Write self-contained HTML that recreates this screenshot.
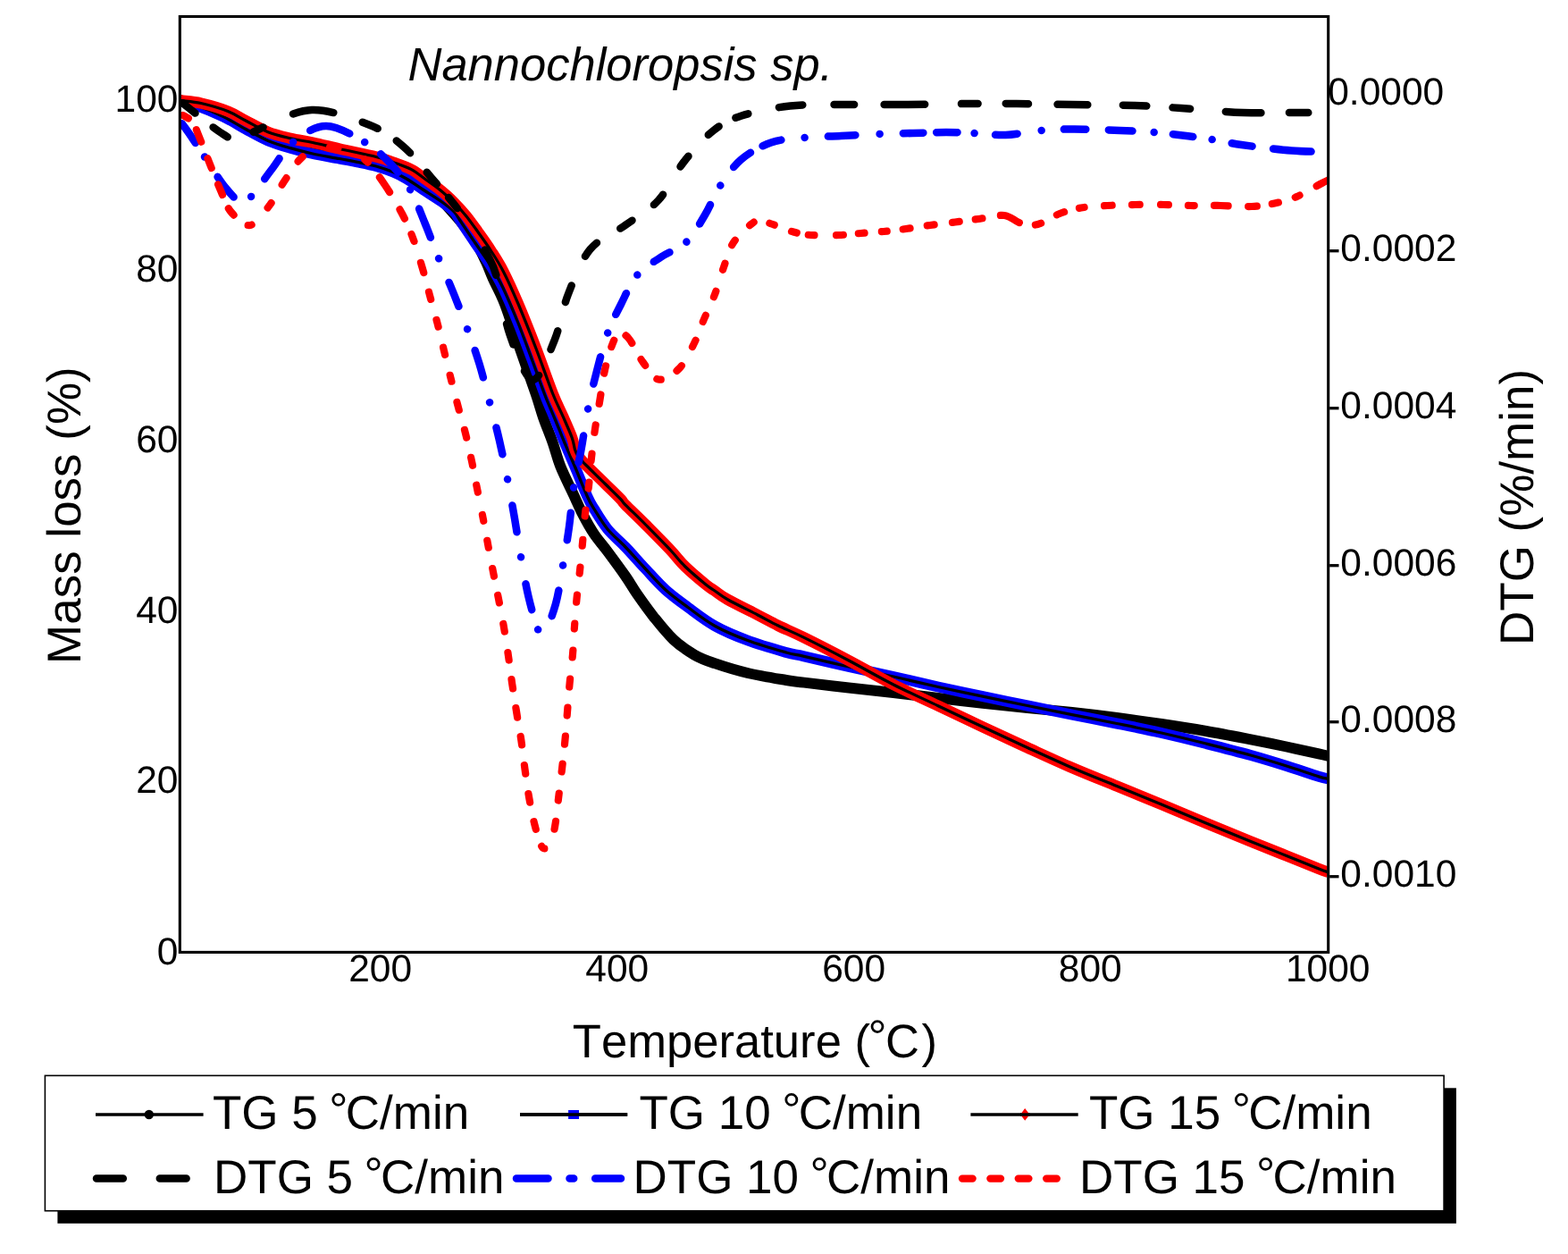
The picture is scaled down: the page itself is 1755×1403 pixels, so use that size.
<!DOCTYPE html>
<html><head><meta charset="utf-8"><title>Nannochloropsis sp. TG/DTG</title>
<style>html,body{margin:0;padding:0;background:#fff;} body{width:1755px;height:1403px;overflow:hidden;} svg{display:block;}</style>
</head><body>
<svg width="1755" height="1403" viewBox="0 0 1755 1403" font-family="'Liberation Sans', Arial, Helvetica, sans-serif" text-rendering="geometricPrecision" style="font-kerning:none;font-feature-settings:'kern' 0">
<rect width="1755" height="1403" fill="#fff"/>
<g clip-path="url(#plotclip)">
<path d="M201.0,112.0 C204.2,112.8 211.8,114.7 220.0,117.0 C228.2,119.3 240.8,122.4 250.0,126.0 C259.2,129.6 266.7,134.3 275.0,138.5 C283.3,142.7 291.7,147.4 300.0,151.0 C308.3,154.6 316.7,157.5 325.0,160.0 C333.3,162.5 340.8,164.0 350.0,166.0 C359.2,168.0 368.2,169.5 380.0,172.0 C391.8,174.5 409.7,178.0 421.0,181.0 C432.3,184.0 438.8,186.2 448.0,190.0 C457.2,193.8 469.2,199.3 476.0,204.0 C482.8,208.7 482.7,211.0 489.0,218.0 C495.3,225.0 506.8,237.3 514.0,246.0 C521.2,254.7 527.0,262.2 532.0,270.0 C537.0,277.8 540.7,286.0 544.0,293.0 C547.3,300.0 548.5,304.2 552.0,312.0 C555.5,319.8 560.0,327.0 565.0,340.0 C570.0,353.0 576.2,373.3 582.0,390.0 C587.8,406.7 595.1,427.1 599.5,440.0 C603.9,452.9 605.0,458.3 608.2,467.4 C611.4,476.5 615.3,485.6 618.5,494.7 C621.7,503.8 623.5,512.2 627.4,522.0 C631.3,531.8 637.9,544.6 642.1,553.7 C646.3,562.8 649.0,569.2 652.8,576.5 C656.6,583.8 660.5,590.8 665.0,597.5 C669.5,604.2 674.2,609.2 680.0,617.0 C685.8,624.8 694.5,636.6 700.0,644.5 C705.5,652.4 707.5,656.6 712.7,664.2 C718.0,671.8 724.7,681.4 731.5,689.9 C738.3,698.4 746.1,708.4 753.7,715.5 C761.3,722.6 769.6,728.2 777.3,732.7 C785.0,737.2 790.1,738.8 800.0,742.2 C809.9,745.6 823.5,749.9 836.8,753.0 C850.1,756.1 869.5,759.2 880.0,761.0 C890.5,762.8 888.3,762.2 900.0,763.6 C911.7,765.0 933.3,767.6 950.0,769.5 C966.7,771.4 983.3,773.1 1000.0,775.0 C1016.7,776.9 1033.3,779.0 1050.0,781.0 C1066.7,783.0 1083.3,784.9 1100.0,786.7 C1116.7,788.5 1133.3,790.3 1150.0,792.0 C1166.7,793.7 1183.3,795.2 1200.0,797.0 C1216.7,798.8 1233.3,800.8 1250.0,803.0 C1266.7,805.2 1283.3,807.5 1300.0,810.0 C1316.7,812.5 1333.3,815.1 1350.0,818.0 C1366.7,820.9 1385.0,824.5 1400.0,827.4 C1415.0,830.3 1427.3,832.8 1440.0,835.5 C1452.7,838.2 1468.2,841.6 1476.0,843.4 C1483.8,845.1 1485.2,845.6 1487.0,846.0" fill="none" stroke="#000" stroke-width="12" stroke-linejoin="round" />
<path d="M201.0,113.0 C204.2,113.8 211.8,115.1 220.0,118.0 C228.2,120.9 240.8,126.1 250.0,130.5 C259.2,134.9 266.7,140.0 275.0,144.5 C283.3,149.0 291.7,153.9 300.0,157.4 C308.3,160.9 316.7,163.3 325.0,165.7 C333.3,168.1 340.8,170.0 350.0,172.0 C359.2,174.0 371.7,175.9 380.0,177.5 C388.3,179.1 393.2,179.9 400.0,181.3 C406.8,182.7 414.3,184.1 421.0,186.0 C427.7,187.9 434.3,190.2 440.0,192.5 C445.7,194.8 449.3,196.7 455.0,200.0 C460.7,203.3 467.4,208.2 474.0,212.5 C480.6,216.8 489.0,221.9 494.7,226.0 C500.4,230.1 505.1,233.7 508.4,237.0 C511.7,240.3 510.6,240.2 514.5,246.0 C518.4,251.8 526.3,263.7 532.0,272.0 C537.7,280.3 543.3,287.7 548.5,296.0 C553.7,304.3 557.9,311.3 563.0,322.0 C568.1,332.7 574.0,346.7 579.4,360.0 C584.8,373.3 590.2,388.3 595.3,402.0 C600.4,415.7 605.6,430.9 609.9,442.0 C614.2,453.1 617.3,459.6 621.0,468.5 C624.7,477.4 628.3,486.8 632.0,495.5 C635.7,504.2 638.7,510.9 643.0,521.0 C647.3,531.1 653.9,547.9 657.6,556.0 C661.3,564.1 661.3,563.5 665.0,569.5 C668.7,575.5 674.2,584.9 680.0,592.0 C685.8,599.1 693.0,604.7 700.0,612.0 C707.0,619.3 714.5,628.0 722.0,636.0 C729.5,644.0 737.0,652.8 745.0,660.0 C753.0,667.2 760.8,672.8 770.0,679.5 C779.2,686.2 788.9,694.0 800.0,700.2 C811.1,706.4 823.5,711.5 836.8,716.5 C850.1,721.5 869.5,727.0 880.0,730.0 C890.5,733.0 888.3,731.6 900.0,734.3 C911.7,737.0 933.3,742.2 950.0,746.0 C966.7,749.8 983.3,753.2 1000.0,757.0 C1016.7,760.8 1033.3,764.8 1050.0,768.5 C1066.7,772.2 1083.3,775.7 1100.0,779.2 C1116.7,782.7 1133.3,786.1 1150.0,789.5 C1166.7,792.9 1183.3,796.3 1200.0,799.6 C1216.7,802.9 1233.3,806.1 1250.0,809.5 C1266.7,812.9 1283.3,816.2 1300.0,820.0 C1316.7,823.8 1333.3,827.8 1350.0,832.0 C1366.7,836.2 1385.0,840.8 1400.0,845.0 C1415.0,849.2 1427.3,853.0 1440.0,857.0 C1452.7,861.0 1468.2,866.4 1476.0,868.8 C1483.8,871.2 1485.2,871.0 1487.0,871.5" fill="none" stroke="#0000ff" stroke-width="12" stroke-linejoin="round" />
<path d="M201.0,113.0 C204.2,113.8 211.8,115.1 220.0,118.0 C228.2,120.9 240.8,126.1 250.0,130.5 C259.2,134.9 266.7,140.0 275.0,144.5 C283.3,149.0 291.7,153.9 300.0,157.4 C308.3,160.9 316.7,163.3 325.0,165.7 C333.3,168.1 340.8,170.0 350.0,172.0 C359.2,174.0 371.7,175.9 380.0,177.5 C388.3,179.1 393.2,179.9 400.0,181.3 C406.8,182.7 414.3,184.1 421.0,186.0 C427.7,187.9 434.3,190.2 440.0,192.5 C445.7,194.8 449.3,196.7 455.0,200.0 C460.7,203.3 467.4,208.2 474.0,212.5 C480.6,216.8 489.0,221.9 494.7,226.0 C500.4,230.1 505.1,233.7 508.4,237.0 C511.7,240.3 510.6,240.2 514.5,246.0 C518.4,251.8 526.3,263.7 532.0,272.0 C537.7,280.3 543.3,287.7 548.5,296.0 C553.7,304.3 557.9,311.3 563.0,322.0 C568.1,332.7 574.0,346.7 579.4,360.0 C584.8,373.3 590.2,388.3 595.3,402.0 C600.4,415.7 605.6,430.9 609.9,442.0 C614.2,453.1 617.3,459.6 621.0,468.5 C624.7,477.4 628.3,486.8 632.0,495.5 C635.7,504.2 638.7,510.9 643.0,521.0 C647.3,531.1 653.9,547.9 657.6,556.0 C661.3,564.1 661.3,563.5 665.0,569.5 C668.7,575.5 674.2,584.9 680.0,592.0 C685.8,599.1 693.0,604.7 700.0,612.0 C707.0,619.3 714.5,628.0 722.0,636.0 C729.5,644.0 737.0,652.8 745.0,660.0 C753.0,667.2 760.8,672.8 770.0,679.5 C779.2,686.2 788.9,694.0 800.0,700.2 C811.1,706.4 823.5,711.5 836.8,716.5 C850.1,721.5 869.5,727.0 880.0,730.0 C890.5,733.0 888.3,731.6 900.0,734.3 C911.7,737.0 933.3,742.2 950.0,746.0 C966.7,749.8 983.3,753.2 1000.0,757.0 C1016.7,760.8 1033.3,764.8 1050.0,768.5 C1066.7,772.2 1083.3,775.7 1100.0,779.2 C1116.7,782.7 1133.3,786.1 1150.0,789.5 C1166.7,792.9 1183.3,796.3 1200.0,799.6 C1216.7,802.9 1233.3,806.1 1250.0,809.5 C1266.7,812.9 1283.3,816.2 1300.0,820.0 C1316.7,823.8 1333.3,827.8 1350.0,832.0 C1366.7,836.2 1385.0,840.8 1400.0,845.0 C1415.0,849.2 1427.3,853.0 1440.0,857.0 C1452.7,861.0 1468.2,866.4 1476.0,868.8 C1483.8,871.2 1485.2,871.0 1487.0,871.5" fill="none" stroke="#000" stroke-width="3.3" stroke-linejoin="round" />
<path d="M201.0,112.0 C201.3,112.1 199.0,111.9 203.0,112.5 C207.0,113.1 216.3,113.5 225.0,115.5 C233.7,117.5 246.7,121.2 255.0,124.5 C263.3,127.8 267.5,131.1 275.0,135.0 C282.5,138.9 291.7,144.4 300.0,147.7 C308.3,151.0 316.7,152.8 325.0,154.8 C333.3,156.8 340.8,157.6 350.0,159.5 C359.2,161.4 368.2,163.8 380.0,166.5 C391.8,169.2 411.0,173.0 421.0,175.5 C431.0,178.0 433.4,179.2 440.0,181.6 C446.6,184.0 454.5,186.5 460.5,189.7 C466.5,192.8 470.5,196.6 476.0,200.5 C481.5,204.4 488.0,208.8 493.4,213.2 C498.8,217.6 503.6,222.0 508.4,226.8 C513.2,231.6 517.4,236.2 522.0,241.9 C526.6,247.6 531.2,254.3 535.8,260.7 C540.4,267.1 544.9,273.3 549.5,280.5 C554.1,287.7 558.4,294.1 563.5,304.0 C568.6,313.9 573.9,325.7 580.0,340.0 C586.1,354.3 593.6,373.3 600.0,390.0 C606.4,406.7 613.4,427.1 618.5,440.0 C623.6,452.9 627.2,459.1 630.8,467.4 C634.4,475.7 638.2,484.1 640.3,490.0 C642.4,495.9 642.5,499.8 643.5,503.0 C644.5,506.2 645.2,507.5 646.5,509.5 C647.8,511.5 649.4,513.2 651.0,515.0 C652.6,516.8 651.6,516.1 656.0,520.5 C660.4,524.9 671.1,535.2 677.5,541.5 C683.9,547.8 690.9,554.5 694.6,558.4 C698.4,562.3 695.3,560.0 700.0,564.8 C704.7,569.6 714.3,578.6 722.6,587.0 C730.9,595.4 742.6,607.2 750.0,615.0 C757.4,622.8 760.3,627.5 767.0,634.0 C773.7,640.5 784.5,649.5 790.0,654.0 C795.5,658.5 796.0,658.2 800.0,661.0 C804.0,663.8 806.0,666.0 814.0,670.5 C822.0,675.0 838.5,683.1 848.0,688.0 C857.5,692.9 862.3,695.8 871.0,700.0 C879.7,704.2 886.8,706.9 900.0,713.4 C913.2,719.9 933.3,730.2 950.0,739.0 C966.7,747.8 983.3,757.5 1000.0,766.0 C1016.7,774.5 1033.3,781.8 1050.0,789.7 C1066.7,797.6 1083.3,805.5 1100.0,813.3 C1116.7,821.1 1133.3,828.9 1150.0,836.5 C1166.7,844.1 1183.3,851.8 1200.0,859.0 C1216.7,866.2 1233.3,872.7 1250.0,879.5 C1266.7,886.3 1283.3,893.1 1300.0,900.0 C1316.7,906.9 1333.3,914.1 1350.0,921.0 C1366.7,927.9 1385.0,935.4 1400.0,941.5 C1415.0,947.6 1427.3,952.4 1440.0,957.5 C1452.7,962.6 1468.2,968.9 1476.0,972.0 C1483.8,975.1 1485.2,975.3 1487.0,976.0" fill="none" stroke="#ff0000" stroke-width="12.5" stroke-linejoin="round" />
<path d="M201.0,112.0 C201.3,112.1 199.0,111.9 203.0,112.5 C207.0,113.1 216.3,113.5 225.0,115.5 C233.7,117.5 246.7,121.2 255.0,124.5 C263.3,127.8 267.5,131.1 275.0,135.0 C282.5,138.9 291.7,144.4 300.0,147.7 C308.3,151.0 316.7,152.8 325.0,154.8 C333.3,156.8 340.8,157.6 350.0,159.5 C359.2,161.4 368.2,163.8 380.0,166.5 C391.8,169.2 411.0,173.0 421.0,175.5 C431.0,178.0 433.4,179.2 440.0,181.6 C446.6,184.0 454.5,186.5 460.5,189.7 C466.5,192.8 470.5,196.6 476.0,200.5 C481.5,204.4 488.0,208.8 493.4,213.2 C498.8,217.6 503.6,222.0 508.4,226.8 C513.2,231.6 517.4,236.2 522.0,241.9 C526.6,247.6 531.2,254.3 535.8,260.7 C540.4,267.1 544.9,273.3 549.5,280.5 C554.1,287.7 558.4,294.1 563.5,304.0 C568.6,313.9 573.9,325.7 580.0,340.0 C586.1,354.3 593.6,373.3 600.0,390.0 C606.4,406.7 613.4,427.1 618.5,440.0 C623.6,452.9 627.2,459.1 630.8,467.4 C634.4,475.7 638.2,484.1 640.3,490.0 C642.4,495.9 642.5,499.8 643.5,503.0 C644.5,506.2 645.2,507.5 646.5,509.5 C647.8,511.5 649.4,513.2 651.0,515.0 C652.6,516.8 651.6,516.1 656.0,520.5 C660.4,524.9 671.1,535.2 677.5,541.5 C683.9,547.8 690.9,554.5 694.6,558.4 C698.4,562.3 695.3,560.0 700.0,564.8 C704.7,569.6 714.3,578.6 722.6,587.0 C730.9,595.4 742.6,607.2 750.0,615.0 C757.4,622.8 760.3,627.5 767.0,634.0 C773.7,640.5 784.5,649.5 790.0,654.0 C795.5,658.5 796.0,658.2 800.0,661.0 C804.0,663.8 806.0,666.0 814.0,670.5 C822.0,675.0 838.5,683.1 848.0,688.0 C857.5,692.9 862.3,695.8 871.0,700.0 C879.7,704.2 886.8,706.9 900.0,713.4 C913.2,719.9 933.3,730.2 950.0,739.0 C966.7,747.8 983.3,757.5 1000.0,766.0 C1016.7,774.5 1033.3,781.8 1050.0,789.7 C1066.7,797.6 1083.3,805.5 1100.0,813.3 C1116.7,821.1 1133.3,828.9 1150.0,836.5 C1166.7,844.1 1183.3,851.8 1200.0,859.0 C1216.7,866.2 1233.3,872.7 1250.0,879.5 C1266.7,886.3 1283.3,893.1 1300.0,900.0 C1316.7,906.9 1333.3,914.1 1350.0,921.0 C1366.7,927.9 1385.0,935.4 1400.0,941.5 C1415.0,947.6 1427.3,952.4 1440.0,957.5 C1452.7,962.6 1468.2,968.9 1476.0,972.0 C1483.8,975.1 1485.2,975.3 1487.0,976.0" fill="none" stroke="#000" stroke-width="3.2" stroke-linejoin="round" />
<path d="M201.0,112.0 C202.8,113.5 203.9,115.0 211.5,121.0 C219.1,127.0 237.1,141.9 246.5,148.0 C255.9,154.1 260.9,158.0 268.0,157.5 C275.1,157.0 275.5,150.8 289.0,145.0 C302.5,139.2 328.2,123.8 349.0,123.0 C369.8,122.2 396.9,133.2 414.0,140.0 C431.1,146.8 440.0,154.2 451.5,164.0 C463.0,173.8 473.8,188.5 483.0,199.0 C492.2,209.5 499.2,217.2 507.0,227.0 C514.8,236.8 523.7,248.5 530.0,258.0 C536.3,267.5 540.7,275.3 545.0,284.0 C549.3,292.7 551.8,295.0 556.0,310.0 C560.2,325.0 563.8,354.8 570.5,374.0 C577.2,393.2 587.7,423.8 596.0,425.0 C604.3,426.2 613.8,397.0 620.5,381.0 C627.2,365.0 629.3,346.0 636.0,329.0 C642.7,312.0 649.8,291.9 660.5,279.0 C671.2,266.1 687.8,260.7 700.5,251.5 C713.2,242.3 726.2,235.8 737.0,224.0 C747.8,212.2 755.3,193.9 765.5,181.0 C775.7,168.1 787.2,155.1 798.0,146.5 C808.8,137.9 815.6,134.2 830.0,129.5 C844.4,124.8 865.4,120.6 884.5,118.5 C903.6,116.4 923.2,117.2 944.5,117.0 C965.8,116.8 988.7,117.2 1012.0,117.0 C1035.3,116.8 1063.5,116.2 1084.5,116.0 C1105.5,115.8 1118.8,115.8 1138.0,116.0 C1157.2,116.2 1178.1,116.7 1200.0,117.0 C1221.9,117.3 1249.2,117.3 1269.5,118.0 C1289.8,118.7 1301.8,119.7 1322.0,121.0 C1342.2,122.3 1369.2,125.2 1391.0,126.0 C1412.8,126.8 1436.5,126.0 1453.0,126.0 C1469.5,126.0 1483.8,126.0 1490.0,126.0" fill="none" stroke="#000" stroke-width="8.5" stroke-linecap="round" stroke-linejoin="round" stroke-dasharray="17.90 25.48 19.41 32.98 12.07 36.67 46.14 34.07 18.24 25.40 20.51 28.41 16.87 20.69 15.54 55.75 31.00 55.75 24.60 31.80 22.99 31.68 22.20 33.43 19.93 35.86 19.99 30.89 15.83 30.31 15.31 36.64 14.77 32.61 15.14 21.54 14.62 35.10 26.53 35.49 22.57 33.39 45.44 40.57 18.60 31.48 25.45 32.51 33.53 39.42 26.57 29.54 19.62 39.63 39.52 31.41 21.53 5000.00" stroke-dashoffset="-4.92"/>
<path d="M201.0,135.0 C202.8,137.3 206.8,142.2 211.5,149.0 C216.2,155.8 222.2,165.4 229.0,175.5 C235.8,185.6 245.0,200.8 252.0,209.5 C259.0,218.2 266.2,225.8 271.0,227.5 C275.8,229.2 275.4,226.4 281.0,220.0 C286.6,213.6 296.7,199.2 304.5,189.0 C312.3,178.8 317.9,167.0 328.0,159.0 C338.1,151.0 351.7,141.0 365.0,141.0 C378.3,141.0 396.2,152.2 408.0,159.0 C419.8,165.8 427.5,173.2 436.0,182.0 C444.5,190.8 452.4,200.8 459.0,212.0 C465.6,223.2 470.2,236.7 475.5,249.5 C480.8,262.3 485.6,275.8 491.0,289.0 C496.4,302.2 502.7,315.8 508.0,329.0 C513.3,342.2 518.2,355.0 523.0,368.0 C527.8,381.0 532.3,393.3 536.5,407.0 C540.7,420.7 544.2,435.7 548.0,450.0 C551.8,464.3 555.7,478.7 559.0,493.0 C562.3,507.3 565.2,521.5 568.0,536.0 C570.8,550.5 573.5,565.5 576.0,580.0 C578.5,594.5 580.4,608.4 583.0,623.0 C585.6,637.6 588.3,654.0 591.5,667.5 C594.7,681.0 599.1,697.1 602.0,704.0 C604.9,710.9 605.7,713.8 609.0,709.0 C612.3,704.2 618.5,688.2 622.0,675.5 C625.5,662.8 627.5,647.3 630.0,633.0 C632.5,618.7 635.0,604.0 637.0,589.5 C639.0,575.0 639.8,560.4 642.0,546.0 C644.2,531.6 647.8,517.7 650.5,503.0 C653.2,488.3 655.1,472.7 658.0,458.0 C660.9,443.3 664.3,429.2 668.0,415.0 C671.7,400.8 675.5,385.4 680.0,373.0 C684.5,360.6 689.5,351.3 695.0,340.5 C700.5,329.7 705.5,316.8 713.0,308.0 C720.5,299.2 730.8,293.7 740.0,287.5 C749.2,281.3 759.8,278.8 768.0,271.0 C776.2,263.2 782.7,251.0 789.0,240.5 C795.3,230.0 799.2,218.3 806.0,208.0 C812.8,197.7 820.0,186.6 829.5,178.5 C839.0,170.4 851.2,163.6 863.0,159.5 C874.8,155.4 886.9,155.2 900.0,154.0 C913.1,152.8 927.5,152.7 941.5,152.0 C955.5,151.3 970.7,150.5 984.0,150.0 C997.3,149.5 1009.0,149.3 1021.5,149.0 C1034.0,148.7 1047.6,148.0 1059.0,148.0 C1070.4,148.0 1078.9,148.5 1090.0,149.0 C1101.1,149.5 1113.0,151.5 1125.5,151.0 C1138.0,150.5 1152.2,147.1 1165.0,146.0 C1177.8,144.9 1187.8,144.5 1202.5,144.5 C1217.2,144.5 1238.8,145.4 1253.5,146.0 C1268.2,146.6 1279.3,147.1 1291.0,148.0 C1302.7,148.9 1312.7,150.2 1323.5,151.5 C1334.3,152.8 1345.0,154.2 1356.0,156.0 C1367.0,157.8 1374.6,159.9 1389.5,162.0 C1404.4,164.1 1428.8,167.2 1445.5,168.5 C1462.2,169.8 1482.6,169.8 1490.0,170.0" fill="none" stroke="#0000ff" stroke-width="8.5" stroke-linecap="round" stroke-linejoin="round" stroke-dasharray="26.45 18.55 0.02 26.59 28.95 25.67 0.02 24.84 28.16 24.14 0.02 23.02 46.49 19.44 0.02 22.40 28.19 23.66 0.02 23.57 34.77 25.08 0.02 28.97 28.97 27.29 0.02 25.43 31.63 28.72 0.02 29.03 30.75 28.53 0.02 29.55 30.29 28.44 0.02 30.50 29.57 23.24 0.02 33.65 29.69 28.40 0.02 28.56 30.97 28.31 0.02 28.55 30.49 30.41 0.02 28.53 31.29 28.01 0.02 22.62 26.40 24.02 0.02 23.60 20.68 22.35 0.02 24.88 24.59 24.35 0.02 25.27 25.03 15.49 21.91 26.37 0.02 26.26 30.61 27.21 0.02 26.26 22.51 14.54 23.46 19.26 0.02 23.57 24.56 27.25 0.02 25.27 24.47 25.53 26.57 24.26 0.02 21.36 22.66 21.46 0.02 22.51 23.06 23.59 42.54 5000.00" stroke-dashoffset="-4.25"/>
<path d="M201.0,127.5 C202.2,128.0 205.5,129.2 208.0,130.8 C210.5,132.3 213.6,133.5 216.0,137.0 C218.4,140.5 219.4,144.4 222.5,152.0 C225.6,159.6 230.5,172.5 234.5,182.5 C238.5,192.5 242.5,202.9 246.5,212.0 C250.5,221.1 252.9,230.3 258.5,237.0 C264.1,243.7 272.8,253.2 280.0,252.0 C287.2,250.8 295.2,238.2 301.5,230.0 C307.8,221.8 312.2,211.7 318.0,203.0 C323.8,194.3 329.8,184.2 336.0,178.0 C342.2,171.8 349.0,168.2 355.0,166.0 C361.0,163.8 366.2,164.7 372.0,165.0 C377.8,165.3 383.7,165.5 390.0,168.0 C396.3,170.5 403.2,173.6 410.0,180.0 C416.8,186.4 423.8,196.7 430.5,206.5 C437.2,216.3 444.8,229.1 450.0,239.0 C455.2,248.9 458.2,256.0 462.0,266.0 C465.8,276.0 469.3,288.2 472.5,299.0 C475.7,309.8 478.2,320.1 481.0,330.5 C483.8,340.9 486.8,351.2 489.5,361.5 C492.2,371.8 494.5,382.2 497.0,392.5 C499.5,402.8 501.9,412.8 504.5,423.0 C507.1,433.2 509.8,443.7 512.5,454.0 C515.2,464.3 518.4,474.7 521.0,485.0 C523.6,495.3 525.8,505.8 528.0,516.0 C530.2,526.2 531.9,536.0 534.0,546.5 C536.1,557.0 538.5,568.7 540.5,579.0 C542.5,589.3 544.1,598.3 546.0,608.5 C547.9,618.7 550.0,629.8 552.0,640.0 C554.0,650.2 556.0,659.7 558.0,670.0 C560.0,680.3 562.2,691.3 564.0,702.0 C565.8,712.7 567.5,723.5 569.0,734.0 C570.5,744.5 571.7,754.5 573.2,765.0 C574.8,775.5 576.5,786.4 578.2,797.0 C579.8,807.6 581.8,817.9 583.4,828.5 C584.9,839.1 586.0,849.8 587.5,860.5 C589.0,871.2 590.4,882.1 592.2,892.5 C594.0,902.9 596.2,914.0 598.5,923.0 C600.8,932.0 603.8,942.2 606.0,946.5 C608.2,950.8 610.2,949.2 612.0,948.5 C613.8,947.8 615.5,946.2 617.0,942.0 C618.5,937.8 619.9,931.8 621.3,923.5 C622.7,915.2 624.0,902.7 625.2,892.0 C626.5,881.3 627.9,870.1 629.1,859.5 C630.3,848.9 631.4,839.0 632.4,828.5 C633.4,818.0 634.2,807.2 635.0,796.5 C635.9,785.8 636.6,775.2 637.6,764.5 C638.6,753.8 640.1,742.6 641.0,732.0 C641.9,721.4 642.2,711.3 643.0,701.0 C643.8,690.7 644.5,680.4 645.5,670.0 C646.5,659.6 647.9,648.9 649.0,638.5 C650.1,628.1 651.0,618.2 652.0,607.5 C653.0,596.8 653.8,585.2 655.0,574.5 C656.2,563.8 657.8,553.9 659.0,543.5 C660.2,533.1 660.8,522.6 662.0,512.0 C663.2,501.4 664.4,490.8 666.0,480.0 C667.6,469.2 669.7,458.0 671.5,447.0 C673.3,436.0 674.7,424.3 677.0,414.0 C679.3,403.7 682.8,391.8 685.5,385.0 C688.2,378.2 689.9,374.0 693.0,373.0 C696.1,372.0 699.6,373.7 704.0,379.0 C708.4,384.3 714.0,397.4 719.5,405.0 C725.0,412.6 730.2,423.2 737.0,424.5 C743.8,425.8 753.4,419.1 760.0,412.5 C766.6,405.9 771.8,394.2 776.5,385.0 C781.2,375.8 784.1,366.2 788.0,357.0 C791.9,347.8 796.3,339.2 800.0,329.5 C803.7,319.8 806.6,308.6 810.0,299.0 C813.4,289.4 815.4,280.0 820.5,272.0 C825.6,264.0 835.4,255.2 840.5,251.0 C845.6,246.8 847.2,246.6 851.0,246.5 C854.8,246.4 857.3,248.3 863.5,250.5 C869.7,252.7 880.7,257.4 888.0,259.5 C895.3,261.6 899.0,262.4 907.5,263.0 C916.0,263.6 929.7,263.3 939.0,263.0 C948.3,262.7 955.2,261.7 963.5,261.0 C971.8,260.3 980.6,259.8 989.0,259.0 C997.4,258.2 1005.3,257.2 1014.0,256.0 C1022.7,254.8 1031.8,253.2 1041.0,252.0 C1050.2,250.8 1060.0,249.7 1069.0,248.5 C1078.0,247.3 1085.8,246.2 1095.0,245.0 C1104.2,243.8 1116.2,240.2 1124.0,241.0 C1131.8,241.8 1135.8,247.8 1142.0,249.5 C1148.2,251.2 1154.2,252.8 1161.5,251.0 C1168.8,249.2 1177.9,242.1 1186.0,239.0 C1194.1,235.9 1201.1,234.0 1210.0,232.5 C1218.9,231.0 1229.4,230.6 1239.5,230.0 C1249.6,229.4 1260.0,229.2 1270.5,229.0 C1281.0,228.8 1292.2,228.8 1302.5,229.0 C1312.8,229.2 1321.9,229.8 1332.5,230.0 C1343.1,230.2 1354.6,229.8 1366.0,230.0 C1377.4,230.2 1390.9,231.4 1401.0,231.0 C1411.1,230.6 1418.1,229.3 1426.5,227.5 C1434.9,225.7 1442.7,223.8 1451.5,220.0 C1460.3,216.2 1473.1,208.3 1479.5,205.0 C1485.9,201.7 1488.2,200.8 1490.0,200.0" fill="none" stroke="#ff0000" stroke-width="8.2" stroke-linecap="round" stroke-linejoin="round" stroke-dasharray="6.97 16.05 14.45 19.75 11.64 19.73 12.57 16.89 9.42 19.95 4.10 26.26 6.83 23.75 8.97 22.65 7.28 33.15 9.50 33.15 4.53 21.35 19.87 22.22 11.56 19.61 8.39 24.71 11.54 22.72 8.36 23.86 8.05 23.76 8.32 23.70 7.09 23.99 9.07 23.17 8.76 22.84 9.10 22.53 8.06 25.68 6.86 22.59 8.04 23.67 8.71 21.89 8.65 23.93 8.60 23.87 8.48 21.79 10.56 21.78 10.63 21.74 9.60 22.73 9.61 22.65 9.84 21.68 9.07 20.14 4.30 26.11 9.04 23.18 8.09 24.19 8.97 22.20 9.00 23.17 8.91 23.18 8.93 24.23 7.90 24.19 5.90 24.11 8.06 24.18 6.93 24.28 6.85 26.28 6.88 24.35 6.92 24.25 7.91 24.06 8.48 23.98 10.41 23.99 8.67 21.89 8.20 18.10 10.89 20.71 8.39 20.25 4.58 20.41 7.88 24.18 8.31 22.30 7.76 22.66 6.82 24.99 7.54 22.00 6.66 22.99 6.00 18.81 5.71 20.30 6.03 13.48 6.73 24.20 7.77 17.35 6.75 19.26 5.91 18.22 7.95 19.38 7.88 20.39 7.78 18.42 7.86 20.41 23.10 18.36 6.57 19.89 8.77 17.67 5.74 22.34 8.74 22.26 8.74 23.22 8.85 22.22 6.79 22.21 15.75 22.26 9.75 17.36 7.08 19.92 5.29 21.63 15.07 5000.00" stroke-dashoffset="-4.10"/>
</g>
<rect x="201.3" y="18.5" width="1285.4" height="1046.9" fill="none" stroke="#000" stroke-width="3.1"/>
<path d="M1486.7,280.8 h13 M1486.7,455.5 h13 M1486.7,630.7 h13 M1486.7,805.5 h13 M1486.7,979.5 h13" stroke="#000" stroke-width="0"/>
<text x="199.5" y="125.2" font-size="42.5" text-anchor="end" >100</text>
<text x="199.5" y="315.4" font-size="42.5" text-anchor="end" >80</text>
<text x="199.5" y="506.0" font-size="42.5" text-anchor="end" >60</text>
<text x="199.5" y="696.6" font-size="42.5" text-anchor="end" >40</text>
<text x="199.5" y="887.2" font-size="42.5" text-anchor="end" >20</text>
<text x="199.5" y="1078.5" font-size="42.5" text-anchor="end" >0</text>
<text x="425.6" y="1098.3" font-size="42.5" text-anchor="middle" >200</text>
<text x="690.8" y="1098.3" font-size="42.5" text-anchor="middle" >400</text>
<text x="955.6" y="1098.3" font-size="42.5" text-anchor="middle" >600</text>
<text x="1220.3" y="1098.3" font-size="42.5" text-anchor="middle" >800</text>
<text x="1486.2" y="1098.3" font-size="42.5" text-anchor="middle" >1000</text>
<text x="1486.2" y="117.3" font-size="42.5" text-anchor="start" >0.0000</text>
<text x="1486.2" y="291.9" font-size="42.5" text-anchor="start" >-0.0002</text>
<text x="1486.2" y="468.3" font-size="42.5" text-anchor="start" >-0.0004</text>
<text x="1486.2" y="643.7" font-size="42.5" text-anchor="start" >-0.0006</text>
<text x="1486.2" y="818.7" font-size="42.5" text-anchor="start" >-0.0008</text>
<text x="1486.2" y="991.9" font-size="42.5" text-anchor="start" >-0.0010</text>
<text x="456.5" y="89.6" font-size="52.5" font-style="italic">Nannochloropsis sp.</text>
<text x="640.8" y="1182.8" font-size="52.6">Temperature (<tspan dx="-2.6" dy="-5.3">°</tspan><tspan dx="-1.4" dy="5.3">C</tspan><tspan dx="2.4">)</tspan></text>
<text transform="translate(90,743) rotate(-90)" x="0" y="0" font-size="53">Mass loss (%)</text>
<text transform="translate(1716,722) rotate(-90)" x="0" y="0" font-size="53">DTG (%/min)</text>
<rect x="64.4" y="1217.3" width="1565.5" height="151.5" fill="#000"/>
<rect x="50.4" y="1203.4" width="1565.7" height="151.3" fill="#fff" stroke="#000" stroke-width="1.6"/>
<line x1="107" y1="1247" x2="227.6" y2="1247" stroke="#000" stroke-width="3.4"/>
<circle cx="166.8" cy="1247" r="5.2" fill="#000"/>
<line x1="582" y1="1247" x2="702.2" y2="1247" stroke="#000" stroke-width="3.4"/>
<rect x="636.1" y="1242" width="11.9" height="10" fill="#0000ff"/>
<line x1="582" y1="1247" x2="702.2" y2="1247" stroke="#000" stroke-width="3.4"/>
<line x1="1086.4" y1="1247" x2="1206.7" y2="1247" stroke="#000" stroke-width="3.4"/>
<path d="M1147.2,1240 L1152.5,1247 L1147.2,1253.8 L1142,1247 Z" fill="#ff0000"/>
<line x1="1142" y1="1247" x2="1152.5" y2="1247" stroke="#000" stroke-width="3.4"/>
<line x1="108" y1="1318.6" x2="212" y2="1318.6" stroke="#000" stroke-width="8.5" stroke-linecap="round" stroke-dasharray="29.8 41"/>
<line x1="578" y1="1318.6" x2="695" y2="1318.6" stroke="#0000ff" stroke-width="8.5" stroke-linecap="round" stroke-dasharray="35.5 24 4.7 24"/>
<line x1="1077" y1="1318.6" x2="1183" y2="1318.6" stroke="#ff0000" stroke-width="8.4" stroke-linecap="round" stroke-dasharray="11.6 19.8"/>
<text x="238" y="1263.4" font-size="53">TG 5 <tspan dx="-2.2" dy="-3.6">°</tspan><tspan dx="-2.8" dy="3.6">C/min</tspan></text>
<text x="715.5" y="1263.4" font-size="53">TG 10 <tspan dx="-2.2" dy="-3.6">°</tspan><tspan dx="-2.8" dy="3.6">C/min</tspan></text>
<text x="1219" y="1263.4" font-size="53">TG 15 <tspan dx="-2.2" dy="-3.6">°</tspan><tspan dx="-2.8" dy="3.6">C/min</tspan></text>
<text x="239" y="1335.4" font-size="53">DTG 5 <tspan dx="-2.2" dy="-3.6">°</tspan><tspan dx="-2.8" dy="3.6">C/min</tspan></text>
<text x="708.5" y="1335.4" font-size="53">DTG 10 <tspan dx="-2.2" dy="-3.6">°</tspan><tspan dx="-2.8" dy="3.6">C/min</tspan></text>
<text x="1208" y="1335.4" font-size="53">DTG 15 <tspan dx="-2.2" dy="-3.6">°</tspan><tspan dx="-2.8" dy="3.6">C/min</tspan></text>
<defs><clipPath id="plotclip"><rect x="201.3" y="18.5" width="1285.4" height="1046.9"/></clipPath></defs>
</svg>
</body></html>
